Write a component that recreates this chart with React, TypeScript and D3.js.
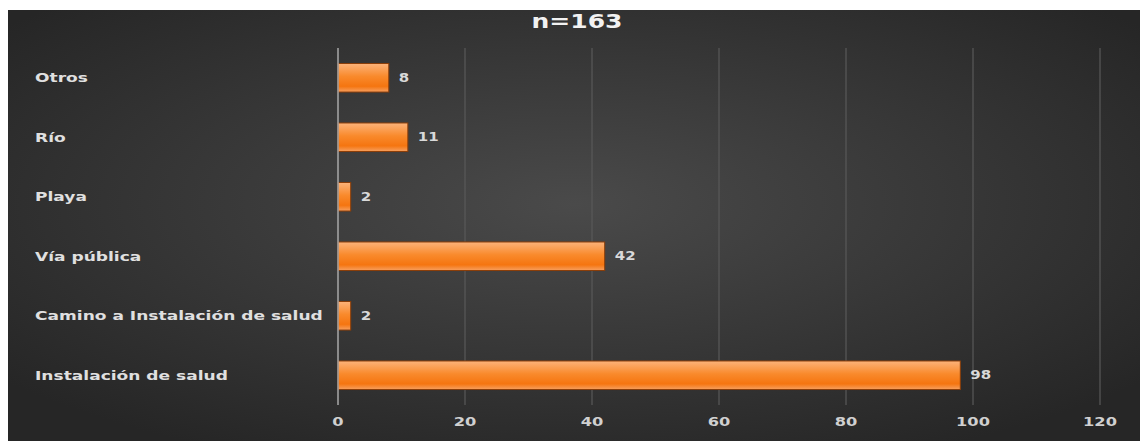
import React, { useEffect, useRef } from "react";
import * as d3 from "d3";

const categories = ["Otros", "Río", "Playa", "Vía pública", "Camino a Instalación de salud", "Instalación de salud"];
const values = [8, 11, 2, 42, 2, 98];
const xTicks = [0, 20, 40, 60, 80, 100, 120];
const title = "n=163";

const FONT = "'DejaVu Sans', Verdana, sans-serif";

export default function App() {
  const ref = useRef<SVGSVGElement>(null);
  useEffect(() => {
    const svg = d3.select(ref.current);
    svg.selectAll("*").remove();
    const W = 1140, H = 441;
    const defs = svg.append("defs");
    const bg = defs.append("radialGradient").attr("id", "bg").attr("cx", "50%").attr("cy", "45%").attr("r", "65%");
    bg.append("stop").attr("offset", "0%").attr("stop-color", "#4a4a4a");
    bg.append("stop").attr("offset", "100%").attr("stop-color", "#262626");
    const bar = defs.append("linearGradient").attr("id", "bar").attr("x1", 0).attr("y1", 0).attr("x2", 0).attr("y2", 1);
    bar.append("stop").attr("offset", "0%").attr("stop-color", "#fcb37a");
    bar.append("stop").attr("offset", "45%").attr("stop-color", "#f98a2c");
    bar.append("stop").attr("offset", "80%").attr("stop-color", "#f57510");
    bar.append("stop").attr("offset", "100%").attr("stop-color", "#f7a060");

    svg.append("rect").attr("width", W).attr("height", H).attr("fill", "#ffffff");
    svg.append("rect").attr("x", 8).attr("y", 10).attr("width", W - 8).attr("height", H - 10).attr("fill", "url(#bg)");

    const x = d3.scaleLinear().domain([0, 120]).range([338, 1100]);
    const y = d3.scaleBand().domain(categories).range([48, 405]).paddingInner(0.52).paddingOuter(0.26);

    const g = svg.append("g");
    g.selectAll("line.grid").data(xTicks.filter(t => t > 0)).join("line")
      .attr("x1", d => x(d)).attr("x2", d => x(d)).attr("y1", 48).attr("y2", 405)
      .attr("stroke", "#595959").attr("stroke-width", 1.2);

    g.selectAll("rect.bar").data(values).join("rect")
      .attr("x", x(0)).attr("y", (d, i) => y(categories[i])!)
      .attr("width", d => x(d) - x(0)).attr("height", y.bandwidth())
      .attr("fill", "url(#bar)").attr("stroke", "#8a3d08").attr("stroke-width", 1);

    g.append("line").attr("x1", x(0)).attr("x2", x(0)).attr("y1", 48).attr("y2", 405)
      .attr("stroke", "#a8a8a8").attr("stroke-width", 1.5);

    const SX = 1.25;
    g.selectAll("text.val").data(values).join("text")
      .attr("transform", (d, i) => `translate(${x(d) + 10},${y(categories[i])! + y.bandwidth() / 2}) scale(${SX},1)`)
      .attr("dy", "0.35em").attr("fill", "#d9d9d9").attr("font-size", 12).attr("font-weight", "bold")
      .attr("font-family", FONT).text(d => String(d));

    const cats = g.selectAll("text.cat").data(categories).join("text")
      .attr("dy", "0.35em").attr("fill", "#e0e0e0").attr("font-size", 13).attr("font-weight", "bold")
      .attr("font-family", FONT).text(d => d);
    let maxW = 0;
    cats.each(function () { maxW = Math.max(maxW, (this as SVGTextElement).getComputedTextLength()); });
    const csx = maxW > 0 ? 288 / maxW : 1.2;
    cats.attr("transform", d => `translate(35,${y(d)! + y.bandwidth() / 2}) scale(${csx},1)`);

    g.selectAll("text.tick").data(xTicks).join("text")
      .attr("transform", d => `translate(${x(d)},422) scale(1.3,1)`)
      .attr("dy", "0.35em").attr("text-anchor", "middle")
      .attr("fill", "#d0d0d0").attr("font-size", 12.5).attr("font-weight", "bold")
      .attr("font-family", FONT).text(d => String(d));

    svg.append("text").attr("transform", "translate(577,21) scale(1.25,1)").attr("dy", "0.35em").attr("text-anchor", "middle")
      .attr("fill", "#f2f2f2").attr("font-size", 20).attr("font-weight", "bold")
      .attr("font-family", FONT).text(title);
  }, []);
  return (
    <svg ref={ref} width={1140} height={441} style={{ position: "absolute", left: 0, top: 0, display: "block" }} />
  );
}
